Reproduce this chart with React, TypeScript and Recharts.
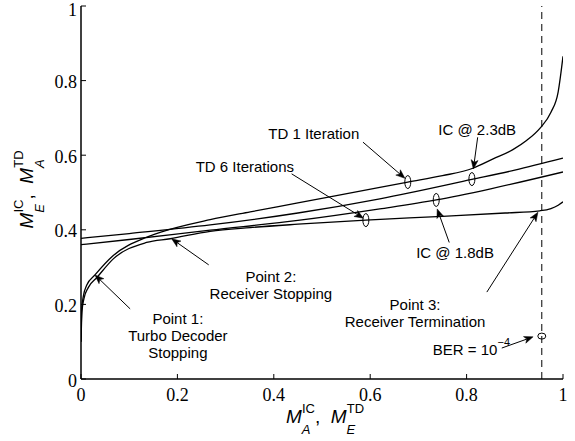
import React from 'react';
import { ComposedChart, Line, XAxis, YAxis, ReferenceLine, ReferenceDot } from 'recharts';

const axisTicks = [0, 0.2, 0.4, 0.6, 0.8, 1];
const tickText = ['0', '0.2', '0.4', '0.6', '0.8', '1'];

// IC @ 2.3dB
const ic23X = [0, 0.1, 0.268, 0.45, 0.62, 0.811, 0.9, 1];
const ic23Y = [0.377, 0.39, 0.413, 0.445, 0.483, 0.535, 0.56, 0.592];
// IC @ 1.8dB
const ic18X = [0, 0.1, 0.268, 0.45, 0.62, 0.737, 0.85, 1];
const ic18Y = [0.36, 0.374, 0.399, 0.425, 0.456, 0.48, 0.51, 0.555];
// TD 1 Iteration
const td1X = [0, 0.0015, 0.005, 0.012, 0.029, 0.067, 0.136, 0.164, 0.268, 0.351, 0.45, 0.62, 0.678, 0.75, 0.813, 0.855, 0.896, 0.925, 0.952, 0.975, 0.99, 1];
const td1Y = [0.1, 0.188, 0.223, 0.252, 0.279, 0.331, 0.38, 0.393, 0.427, 0.448, 0.472, 0.514, 0.528, 0.545, 0.565, 0.59, 0.615, 0.64, 0.672, 0.715, 0.77, 0.865];
// TD 6 Iterations
const td6X = [0, 0.002, 0.006, 0.015, 0.033, 0.067, 0.136, 0.185, 0.268, 0.351, 0.45, 0.591, 0.75, 0.88, 0.952, 0.975, 0.99, 1];
const td6Y = [0.1, 0.18, 0.215, 0.245, 0.272, 0.322, 0.366, 0.376, 0.396, 0.406, 0.415, 0.426, 0.436, 0.445, 0.451, 0.457, 0.466, 0.475];

const berX = 0.956;

const zip = (xs: number[], ys: number[]) => xs.map((x, i) => ({ x, y: ys[i] }));
const ic23 = zip(ic23X, ic23Y);
const ic18 = zip(ic18X, ic18Y);
const td1 = zip(td1X, td1Y);
const td6 = zip(td6X, td6Y);

const arrows = [
  { from: [0.102, 0.188], to: [0.029, 0.279] },
  { from: [0.265, 0.306], to: [0.188, 0.376] },
  { from: [0.842, 0.233], to: [0.948, 0.447] },
  { from: [0.585, 0.635], to: [0.672, 0.538] },
  { from: [0.437, 0.55], to: [0.586, 0.431] },
  { from: [0.823, 0.648], to: [0.814, 0.563] },
  { from: [0.764, 0.366], to: [0.739, 0.456] },
  { from: [0.873, 0.083], to: [0.938, 0.113] },
];

const markers = [
  { x: 0.678, y: 0.528, h: false },
  { x: 0.811, y: 0.536, h: false },
  { x: 0.591, y: 0.426, h: false },
  { x: 0.737, y: 0.48, h: false },
  { x: berX, y: 0.115, h: true },
];

const notes = [
  { x: 0.201, y: 0.161, lines: ['Point 1:', 'Turbo Decoder', 'Stopping'] },
  { x: 0.394, y: 0.276, lines: ['Point 2:', 'Receiver Stopping'] },
  { x: 0.693, y: 0.201, lines: ['Point 3:', 'Receiver Termination'] },
  { x: 0.483, y: 0.657, lines: ['TD 1 Iteration'] },
  { x: 0.34, y: 0.571, lines: ['TD 6 Iterations'] },
  { x: 0.822, y: 0.67, lines: ['IC @ 2.3dB'] },
  { x: 0.776, y: 0.34, lines: ['IC @ 1.8dB'] },
];

const SANS = 'Liberation Sans, Arial, Helvetica, sans-serif';
const SERIF = 'Liberation Serif, Times New Roman, serif';

const BottomTick = (p: any) => {
  const i = axisTicks.indexOf(p.payload.value);
  return (
    <g>
      <line x1={p.x} y1={p.y} x2={p.x} y2={p.y - 5} stroke="#000" strokeWidth={1} />
      <text x={p.x} y={p.y + 16} textAnchor="middle" dominantBaseline="central" fontFamily={SERIF} fontSize={18} fill="#000">
        {tickText[i]}
      </text>
    </g>
  );
};
const TopTick = (p: any) => <line x1={p.x} y1={p.y} x2={p.x} y2={p.y + 5} stroke="#000" strokeWidth={1} />;
const LeftTick = (p: any) => {
  const i = axisTicks.indexOf(p.payload.value);
  return (
    <g>
      <line x1={p.x} y1={p.y} x2={p.x + 5} y2={p.y} stroke="#000" strokeWidth={1} />
      <text x={p.x - 4} y={Math.max(p.y + 1.5, 10)} textAnchor="end" dominantBaseline="central" fontFamily={SERIF} fontSize={18} fill="#000">
        {tickText[i]}
      </text>
    </g>
  );
};
const RightTick = (p: any) => <line x1={p.x} y1={p.y} x2={p.x - 5} y2={p.y} stroke="#000" strokeWidth={1} />;

const MathTitle = ({ a, b, c, d }: { a: string; b: string; c: string; d: string }) => (
  <>
    <tspan fontStyle="italic">M</tspan>
    <tspan fontStyle="italic" fontSize={13} dy={11}>{a}</tspan>
    <tspan fontSize={13} dx={-8.5} dy={-21}>{b}</tspan>
    <tspan dy={10}>{', \u00a0'}</tspan>
    <tspan fontStyle="italic">M</tspan>
    <tspan fontStyle="italic" fontSize={13} dy={11}>{c}</tspan>
    <tspan fontSize={13} dx={-8.5} dy={-21}>{d}</tspan>
  </>
);

const XTitle = (p: any) => {
  const vb = p.viewBox || {};
  const cx = vb.x + vb.width / 2 + 3;
  const y = vb.y + 44;
  return (
    <text x={cx} y={y} textAnchor="middle" fontFamily={SANS} fontSize={19} fill="#000">
      <MathTitle a="A" b="IC" c="E" d="TD" />
    </text>
  );
};

const YTitle = (p: any) => {
  const vb = p.viewBox || {};
  const cy = vb.y + vb.height / 2 - 3;
  const bx = vb.x + 33;
  return (
    <g transform={`translate(${bx},${cy}) rotate(-90)`}>
      <text x={0} y={0} textAnchor="middle" fontFamily={SANS} fontSize={19} fill="#000">
        <MathTitle a="E" b="IC" c="A" d="TD" />
      </text>
    </g>
  );
};

const ArrowShape = (p: any) => {
  const { x1, y1, x2, y2 } = p;
  const dx = x2 - x1;
  const dy = y2 - y1;
  const len = Math.hypot(dx, dy) || 1;
  const ux = dx / len;
  const uy = dy / len;
  const hl = 9;
  const hw = 3.5;
  const bx = x2 - ux * hl;
  const by = y2 - uy * hl;
  const nx = -uy;
  const ny = ux;
  const mx = x2 - ux * hl * 0.75;
  const my = y2 - uy * hl * 0.75;
  const pts = `${x2},${y2} ${bx + nx * hw},${by + ny * hw} ${mx},${my} ${bx - nx * hw},${by - ny * hw}`;
  return (
    <g>
      <line x1={x1} y1={y1} x2={mx} y2={my} stroke="#000" strokeWidth={1} />
      <polygon points={pts} fill="#000" stroke="#000" strokeWidth={0.5} />
    </g>
  );
};

const MarkerShape = (horiz: boolean) => (p: any) =>
  horiz ? (
    <ellipse cx={p.cx} cy={p.cy} rx={4} ry={3} fill="none" stroke="#000" strokeWidth={1} />
  ) : (
    <ellipse cx={p.cx} cy={p.cy} rx={3} ry={6.5} fill="none" stroke="#000" strokeWidth={1} />
  );

const NoteShape = (lines: string[]) => (p: any) => {
  const lh = 17;
  const start = p.cy;
  return (
    <text textAnchor="middle" fontFamily={SANS} fontSize={15} fill="#000">
      {lines.map((l, i) => (
        <tspan key={i} x={p.cx} y={start + i * lh} dominantBaseline="central">
          {l}
        </tspan>
      ))}
    </text>
  );
};

const BerShape = (p: any) => (
  <text x={p.cx} y={p.cy} textAnchor="middle" dominantBaseline="central" fontFamily={SANS} fontSize={15} fill="#000">
    BER = 10
    <tspan fontSize={11} dy={-7}>−4</tspan>
  </text>
);

export default function App() {
  return (
    <div style={{ position: 'absolute', left: 0, top: 0, background: '#fff' }}>
      <ComposedChart width={575} height={441} margin={{ top: 6, right: 12, left: 0, bottom: 0 }}>
        <XAxis
          xAxisId="b"
          type="number"
          dataKey="x"
          domain={[0, 1]}
          ticks={axisTicks}
          interval={0}
          allowDataOverflow
          height={62}
          tickSize={0}
          tickMargin={0}
          tickLine={false}
          tick={BottomTick}
          axisLine={{ stroke: '#000', strokeWidth: 1.5 }}
          label={{ content: XTitle }}
        />
        <XAxis
          xAxisId="t"
          orientation="top"
          type="number"
          dataKey="x"
          domain={[0, 1]}
          ticks={axisTicks}
          interval={0}
          allowDataOverflow
          height={0}
          tickSize={0}
          tickMargin={0}
          tickLine={false}
          tick={TopTick}
          axisLine={{ stroke: '#000', strokeWidth: 1.5 }}
        />
        <YAxis
          yAxisId="l"
          type="number"
          dataKey="y"
          domain={[0, 1]}
          ticks={axisTicks}
          interval={0}
          allowDataOverflow
          width={81}
          tickSize={0}
          tickMargin={0}
          tickLine={false}
          tick={LeftTick}
          axisLine={{ stroke: '#000', strokeWidth: 1.5 }}
          label={{ content: YTitle }}
        />
        <YAxis
          yAxisId="r"
          orientation="right"
          type="number"
          dataKey="y"
          domain={[0, 1]}
          ticks={axisTicks}
          interval={0}
          allowDataOverflow
          width={0}
          tickSize={0}
          tickMargin={0}
          tickLine={false}
          tick={RightTick}
          axisLine={{ stroke: '#000', strokeWidth: 1.5 }}
        />
        <ReferenceLine xAxisId="b" yAxisId="l" x={berX} stroke="#000" strokeWidth={1} strokeDasharray="7 5" />
        {[ic23, ic18, td1, td6].map((d, i) => (
          <Line
            key={i}
            xAxisId="b"
            yAxisId="l"
            data={d}
            dataKey="y"
            type="monotone"
            stroke="#000"
            strokeWidth={1.3}
            dot={false}
            activeDot={false}
            isAnimationActive={false}
          />
        ))}
        {arrows.map((a, i) => (
          <ReferenceLine
            key={'a' + i}
            xAxisId="b"
            yAxisId="l"
            segment={[{ x: a.from[0], y: a.from[1] }, { x: a.to[0], y: a.to[1] }]}
            shape={ArrowShape}
            ifOverflow="visible"
          />
        ))}
        {markers.map((m, i) => (
          <ReferenceDot key={'m' + i} xAxisId="b" yAxisId="l" x={m.x} y={m.y} r={4} shape={MarkerShape(m.h)} ifOverflow="visible" />
        ))}
        {notes.map((n, i) => (
          <ReferenceDot key={'n' + i} xAxisId="b" yAxisId="l" x={n.x} y={n.y} r={1} shape={NoteShape(n.lines)} ifOverflow="visible" />
        ))}
        <ReferenceDot xAxisId="b" yAxisId="l" x={0.81} y={0.08} r={1} shape={BerShape} ifOverflow="visible" />
      </ComposedChart>
    </div>
  );
}
